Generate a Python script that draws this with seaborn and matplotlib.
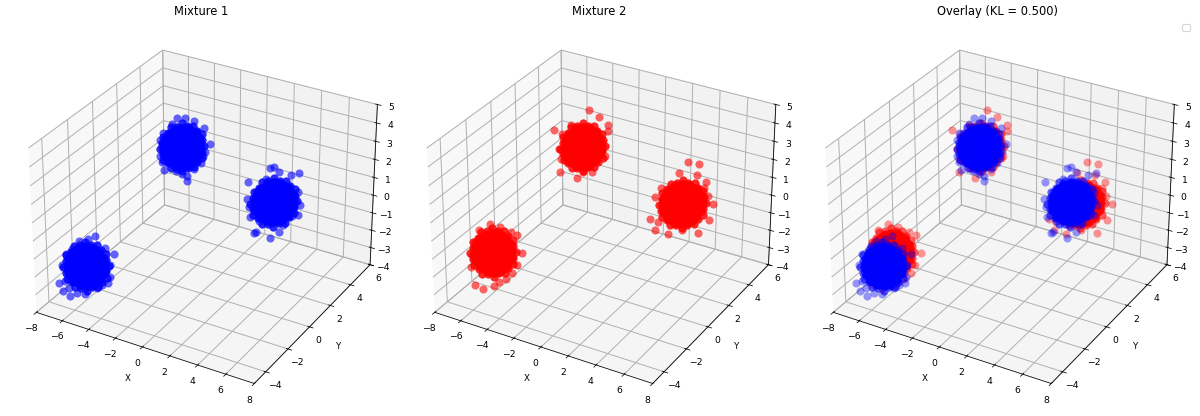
import numpy as np
import seaborn as sns
import matplotlib
matplotlib.use("Agg")
import matplotlib.pyplot as plt

# blob centres (x, y, z)
m1_centres = [(-5.5, -3.5, -1.7), (-4.8, 4.0, 1.1), (2.65, 3.4, -0.15)]
m2_centres = [(-5.3, -3.0, -1.17), (-4.63, 4.0, 1.15), (3.4, 3.4, -0.08)]

# dense middle of each blob, offsets from the centre in x and z
core_dx = [-1.4, -1.4, -1.4,
           -1.05, -1.05, -1.05, -1.05, -1.05, -1.05, -1.05,
           -0.7, -0.7, -0.7, -0.7, -0.7, -0.7, -0.7, -0.7,
           -0.35, -0.35, -0.35, -0.35, -0.35, -0.35, -0.35, -0.35, -0.35,
           0, 0, 0, 0, 0, 0, 0, 0, 0,
           0.35, 0.35, 0.35, 0.35, 0.35, 0.35, 0.35, 0.35, 0.35,
           0.7, 0.7, 0.7, 0.7, 0.7, 0.7, 0.7, 0.7,
           1.05, 1.05, 1.05, 1.05, 1.05, 1.05, 1.05,
           1.4, 1.4, 1.4,
           -1.22, -1.22, -1.22, -1.22, -1.22,
           -0.88, -0.88, -0.88, -0.88, -0.88, -0.88, -0.88,
           -0.52, -0.52, -0.52, -0.52, -0.52, -0.52, -0.52, -0.52,
           -0.18, -0.18, -0.18, -0.18, -0.18, -0.18, -0.18, -0.18,
           0.18, 0.18, 0.18, 0.18, 0.18, 0.18, 0.18, 0.18,
           0.52, 0.52, 0.52, 0.52, 0.52, 0.52, 0.52, 0.52,
           0.88, 0.88, 0.88, 0.88, 0.88, 0.88, 0.88,
           1.22, 1.22, 1.22, 1.22, 1.22,
           1.47, 1.36, 1.04, 0.56, 0, -0.56, -1.04, -1.36, -1.47, -1.36, -1.04, -0.56, 0, 0.56, 1.04, 1.36,
           1.30, 1.10, 0.74, 0.26, -0.26, -0.74, -1.10, -1.30, -1.30, -1.10, -0.74, -0.26, 0.26, 0.74, 1.10, 1.30]
core_dz = [-0.65, -0.38, -0.1,
           -1.0, -0.72, -0.45, -0.18, 0.1, 0.38, 0.5,
           -1.1, -0.85, -0.58, -0.3, -0.02, 0.25, 0.52, 0.78,
           -1.15, -0.88, -0.6, -0.32, -0.05, 0.22, 0.5, 0.75, 0.98,
           -1.1, -0.85, -0.55, -0.28, 0, 0.28, 0.55, 0.85, 1.1,
           -0.98, -0.75, -0.48, -0.2, 0.08, 0.35, 0.62, 0.9, 1.15,
           -0.78, -0.5, -0.22, 0.05, 0.32, 0.6, 0.85, 1.12,
           -0.5, -0.25, 0.02, 0.3, 0.55, 0.8, 1.02,
           0.08, 0.36, 0.62,
           -0.8, -0.5, -0.22, 0.05, 0.3,
           -1.0, -0.72, -0.44, -0.16, 0.12, 0.4, 0.62,
           -1.05, -0.78, -0.46, -0.18, 0.1, 0.38, 0.65, 0.88,
           -1.02, -0.74, -0.46, -0.16, 0.14, 0.42, 0.7, 0.98,
           -0.95, -0.66, -0.36, -0.08, 0.2, 0.48, 0.76, 1.02,
           -0.84, -0.58, -0.3, -0.02, 0.26, 0.54, 0.82, 1.08,
           -0.62, -0.36, -0.08, 0.18, 0.44, 0.7, 0.95,
           -0.2, 0.06, 0.3, 0.56, 0.82,
           0.37, -0.09, -0.53, -0.89, -1.12, -1.18, -1.06, -0.78, -0.37, 0.09, 0.53, 0.89, 1.12, 1.18, 1.06, 0.78,
           0.13, -0.28, -0.65, -0.93, -1.06, -1.03, -0.84, -0.52, -0.13, 0.28, 0.65, 0.93, 1.06, 1.03, 0.84, 0.52]

# uneven rim around the middle
rim_dx = [1.72, 1.51, 1.53, 1.14, 0.88, 0.41, 0, -0.42, -0.88, -1.13, -1.51, -1.54,
          -1.76, -1.54, -1.51, -1.13, -0.89, -0.42, 0, 0.41, 0.88, 1.14, 1.51, 1.54]
rim_dz = [0.43, 0.07, -0.29, -0.59, -0.95, -1.07, -1.37, -1.30, -1.39, -1.15, -1.05, -0.70,
          -0.44, -0.07, 0.28, 0.58, 0.96, 1.09, 1.35, 1.28, 1.39, 1.16, 1.05, 0.70]

# outer points of mixture 1
m1_a_dx = [2.13, 1.84, 1.76, 1.64, 0.78, -0.44, -1.05, -1.84, -2.16, -1.86, -1.35, -0.15, 0.78, 1.15, -1.55, 1.45, 0.2, -1.7, -1.4, -0.8]
m1_a_dz = [1.19, 0.50, -0.17, -0.56, 1.85, 1.35, 0.76, -0.33, -1.45, -1.84, -2.01, -1.57, -1.02, -0.80, 0.35, 1.35, 1.6, -1.2, -1.55, -1.7]
m1_b_dx = [-0.37, 0.27, 0.91, 1.69, -0.74, -1.52, -1.72, -1.59, -1.72, -1.62, -1.47, 2.11, 1.76, 1.59, 1.42, 0.88, -0.05, 0.37, 0.37, -0.49]
m1_b_dz = [1.59, 1.72, 1.67, 1.42, 1.20, 0.53, 0.09, -0.18, -0.83, -1.16, -1.59, 0.63, 0.11, -0.16, -0.58, -1.07, -1.55, -1.59, -1.87, -1.43]
m1_c_dx = [-1.96, -2.01, -1.72, -1.32, -1.47, -0.25, 0.42, -0.29, 0, 1.79, 1.23, 1.91, 1.76, 1.35, 1.72, -1.84, -1.10, 0.37, -0.61, 0.74]
m1_c_dz = [0.76, -0.21, -1.18, -1.98, -2.06, -2.07, -1.58, 1.89, 1.97, 2.01, 1.81, 0.26, -0.30, -0.50, 0.94, -0.65, -1.31, 1.78, 1.16, -1.13]

# outer points of mixture 2
m2_a_dx = [-0.98, -0.20, 0.56, 1.40, 1.89, 2.21, 1.79, 1.42, 0.91, 0.37, 0, -0.86, -1.50, -1.72, -1.59, -1.35]
m2_a_dz = [1.03, 1.54, 1.55, 1.48, 1.41, 0.46, -0.30, -0.80, -1.27, -1.55, -1.91, -2.28, -2.19, -1.18, -0.50, 0.31]
m2_b_dx = [0.49, 1.23, 1.94, 1.96, -2.25, -1.62, -0.93, 1.69, 0.74, -0.49, -1.79, -1.72, -1.86, 0]
m2_b_dz = [2.16, 1.96, 1.61, 1.28, 0.50, 0.43, 1.07, -0.19, -1.26, -1.87, -1.82, -1.05, -0.47, -1.40]
m2_c_dx = [0.37, 1.15, 1.69, 2.25, 1.94, 1.23, 0.05, -1.05, -1.99, -2.38, -2.03, -1.62, -0.32, 0.98, 1.84, -1.79, 1.52]
m2_c_dz = [2.40, 2.48, 1.59, 0.51, -0.48, -1.38, -1.48, -1.95, -1.91, -1.39, -0.05, 0.53, 1.66, 1.84, 0.84, -1.39, 1.23]

x_ticks = [-8, -6, -4, -2, 0, 2, 4, 6, 8]
y_ticks = [-4, -2, 0, 2, 4, 6]
z_ticks = [-4, -3, -2, -1, 0, 1, 2, 3, 4, 5]
titles = ["Mixture 1", "Mixture 2", "Overlay (KL = 0.500)"]
colors = sns.color_palette(["blue", "red"])


def cloud(centres, edges):
    xs, ys, zs = [], [], []
    for (cx, cy, cz), (ex, ez) in zip(centres, edges):
        # the middle is drawn over itself so it comes out solid
        dx = np.array(core_dx * 3 + rim_dx * 2 + ex)
        dz = np.array(core_dz * 3 + rim_dz * 2 + ez)
        xs.append(cx + dx)
        ys.append(np.full(len(dx), cy))
        zs.append(cz + dz)
    return np.concatenate(xs), np.concatenate(ys), np.concatenate(zs)


m1 = cloud(m1_centres, [(m1_a_dx, m1_a_dz), (m1_b_dx, m1_b_dz), (m1_c_dx, m1_c_dz)])
m2 = cloud(m2_centres, [(m2_a_dx, m2_a_dz), (m2_b_dx, m2_b_dz), (m2_c_dx, m2_c_dz)])

sns.reset_orig()
sns.set_context("paper", rc={"font.size": 6.7, "axes.titlesize": 8.3, "axes.labelsize": 6.3,
                             "xtick.labelsize": 6.7, "ytick.labelsize": 6.7, "legend.fontsize": 6.7,
                             "grid.linewidth": 0.7, "axes.linewidth": 0.55,
                             "xtick.major.width": 0.55, "ytick.major.width": 0.55})

fig = plt.figure(figsize=(12, 4.16), dpi=100)
lefts = [0.0059, 0.3379, 0.6700]

for i in range(3):
    ax = fig.add_axes([lefts[i], 0.0192, 0.3233, 0.9327], projection="3d")
    ax.computed_zorder = False
    if i == 0:
        ax.scatter(*m1, s=34, c=[colors[0]], alpha=0.6, depthshade=False, linewidths=0)
    if i == 1:
        ax.scatter(*m2, s=34, c=[colors[1]], alpha=0.6, depthshade=False, linewidths=0)
    if i == 2:
        ax.scatter(*m2, s=34, c=[colors[1]], alpha=0.4, depthshade=False, linewidths=0)
        ax.scatter(*m1, s=34, c=[colors[0]], alpha=0.4, depthshade=False, linewidths=0)
    ax.set_xlim(-8, 8, view_margin=0)
    ax.set_ylim(-5, 6, view_margin=0)
    ax.set_zlim(-4, 5, view_margin=0)
    ax.set_xticks(x_ticks)
    ax.set_yticks(y_ticks)
    ax.set_zticks(z_ticks)
    ax.tick_params(pad=-2)
    ax.set_xlabel("X", labelpad=-5)
    ax.set_ylabel("Y", labelpad=-5)
    ax.set_title(titles[i], y=1.10, pad=0)
    if i == 2:
        ax.legend(handles=[], loc="upper right", bbox_to_anchor=(1.006, 1.003))

fig.savefig("out.png", dpi=100)
